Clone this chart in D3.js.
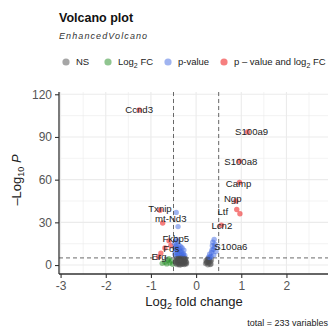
<!DOCTYPE html>
<html>
<head>
<meta charset="utf-8">
<script src="https://cdn.jsdelivr.net/npm/d3@7"></script>
<style>
  body { margin: 0; background: #fff; }
  svg { font-family: "Liberation Sans", Arial, sans-serif; }
</style>
</head>
<body>
<div id="chart"></div>
<script>
// values
const log2FC = [
  -1.26, 1.14, 0.96, 0.96, 0.88, 0.90, 0.97, 0.56, -0.80, -0.74, -0.44, -0.40,
  -0.60, -0.69, -0.78, -0.56, -0.83,
  -0.69, -0.62, -0.58, -0.65, -0.55, -0.75, -0.52, -0.60,
  -0.48, -0.45, -0.42, -0.38, -0.35, -0.31, -0.28, -0.46, -0.40, -0.33, -0.27,
  -0.44, -0.37, -0.30, -0.25, -0.41, -0.47, -0.36, -0.32, -0.39, -0.43,
  -0.45, -0.41, -0.34, -0.29, -0.38, -0.47, -0.26, -0.43,
  -0.44, -0.40, -0.36, -0.32, -0.28, -0.24, -0.42, -0.38, -0.34, -0.30, -0.26,
  -0.22, -0.44, -0.40, -0.36, -0.32, -0.28, -0.24, -0.42, -0.38, -0.34, -0.30,
  -0.26, -0.22, -0.46, -0.33, -0.25,
  -0.43, -0.39, -0.35, -0.31, -0.27, -0.23, -0.41, -0.37, -0.29, -0.25, -0.45,
  -0.33, -0.39, -0.21, -0.35,
  0.24, 0.30, 0.26, 0.28, 0.32, 0.22, 0.33, 0.21, 0.29, 0.25,
  0.27, 0.23, 0.31, 0.34, 0.26,
  0.37, 0.41, 0.35, 0.39, 0.30, 0.33, 0.44, 0.36, 0.28, 0.40,
  0.34, 0.38, 0.31, 0.42
];
const negLog10P = [
  109, 93.5, 73, 58, 45, 39, 36, 28, 38.5, 29.5, 37, 27,
  17, 12, 8.4, 13.5, 5.6,
  2, 3.5, 1.4, 0.8, 2.8, 1.2, 0.5, 4.4,
  15.5, 13, 11, 14, 9.5, 12, 8, 9, 7, 6.5, 10.5,
  6, 11.5, 5.8, 6.8, 16.5, 7.5, 8, 9.2, 5.5, 18,
  11.5, 8.5, 12.8, 7.2, 10, 12, 5.3, 14.5,
  4.5, 4.2, 4.6, 4.0, 4.4, 3.8, 3.2, 2.8, 3.4, 2.6, 3.0,
  2.4, 1.8, 1.4, 2.0, 1.2, 1.8, 1.0, 0.4, 0.8, 0.2, 0.6,
  0.3, 0.8, 2.6, 4.8, 2.2,
  3.6, 3.9, 1.6, 3.3, 2.4, 4.4, 2.2, 0.1, 1.1, 4.1, 1.0,
  2.9, 4.7, 1.6, 3.9,
  2, 3.5, 0.2, 1.4, 2.4, 3.2, 0.8, 1.0, 4.4, 4.0,
  2.8, 1.8, 0.4, 3.6, 4.6,
  16, 12.7, 10.5, 7, 7.7, 6, 9.5, 13.5, 5.6, 18,
  8.8, 11, 5.3, 14.5
];
const labelGenes = ['Ccnd3', 'S100a9', 'S100a8', 'Camp', 'Ngp', 'Ltf', 'Lcn2',
  'Txnip', 'mt-Nd3', 'Fkbp5', 'Fos', 'Erg', 'S100a6'];
const labelFC = [-1.26, 1.23, 0.99, 0.94, 0.81, 0.59, 0.57, -0.80, -0.56, -0.45, -0.55, -0.82, 0.77];
const labelP = [109, 94, 73, 57, 46.5, 37.3, 28, 39.5, 32.5, 18.2, 11.3, 5.6, 12.7];
const xTicks = [-3, -2, -1, 0, 1, 2];
const yTicks = [0, 30, 60, 90, 120];
const legendNames = ['NS', 'Log2 FC', 'p-value', 'p \u2013 value and log2 FC'];
const fcCutoff = 0.5;
const pCutoff = 5;

const width = 332, height = 331;
const colors = ['#4d4d4d', '#228b22', '#4169e1', '#ee0000'];

const svg = d3.select('#chart').append('svg')
  .attr('width', width)
  .attr('height', height);

const x = d3.scaleLinear().domain([-3.035, 2.92]).range([59, 328]);
const y = d3.scaleLinear().domain([-6.3, 121.6]).range([274, 92]);

// category like EnhancedVolcano: 0 NS, 1 FC, 2 p, 3 both
function category(fc, p) {
  const bigFC = Math.abs(fc) > fcCutoff, smallP = p > pCutoff;
  if (bigFC && smallP) return 3;
  if (smallP) return 2;
  if (bigFC) return 1;
  return 0;
}

// gridlines
const grid = svg.append('g').attr('stroke', '#ebebeb');
const minorX = d3.range(-2.5, 3, 1);
const minorY = d3.range(15, 121, 30);
grid.selectAll('.minx').data(minorX).enter().append('line')
  .attr('x1', d => x(d)).attr('x2', d => x(d)).attr('y1', 92).attr('y2', 274)
  .attr('stroke-width', 0.6);
grid.selectAll('.miny').data(minorY).enter().append('line')
  .attr('y1', d => y(d)).attr('y2', d => y(d)).attr('x1', 59).attr('x2', 328)
  .attr('stroke-width', 0.6);
grid.selectAll('.majx').data(xTicks).enter().append('line')
  .attr('x1', d => x(d)).attr('x2', d => x(d)).attr('y1', 92).attr('y2', 274)
  .attr('stroke-width', 1.1);
grid.selectAll('.majy').data(yTicks).enter().append('line')
  .attr('y1', d => y(d)).attr('y2', d => y(d)).attr('x1', 59).attr('x2', 328)
  .attr('stroke-width', 1.1);

// points
const pts = log2FC.map((fc, i) => ({ fc, p: negLog10P[i], c: category(fc, negLog10P[i]) }));
svg.append('g').selectAll('circle')
  .data(pts).enter().append('circle')
  .attr('cx', d => x(d.fc))
  .attr('cy', d => y(d.p))
  .attr('r', 2.7)
  .attr('fill', d => colors[d.c])
  .attr('fill-opacity', 0.5);

// cutoff lines
const cut = svg.append('g').attr('stroke', '#444').attr('stroke-width', 0.8)
  .attr('stroke-dasharray', '4,3');
cut.selectAll('.v').data([-fcCutoff, fcCutoff]).enter().append('line')
  .attr('x1', d => x(d)).attr('x2', d => x(d)).attr('y1', 92).attr('y2', 274);
cut.append('line')
  .attr('x1', 59).attr('x2', 328).attr('y1', y(pCutoff)).attr('y2', y(pCutoff));

// gene labels
svg.append('g').selectAll('text')
  .data(labelGenes).enter().append('text')
  .attr('x', (d, i) => x(labelFC[i]))
  .attr('y', (d, i) => y(labelP[i]))
  .attr('dy', '0.35em')
  .attr('text-anchor', 'middle')
  .attr('font-size', 9.6)
  .attr('fill', '#222')
  .text(d => d);

// axes
const xAxis = d3.axisBottom(x).tickValues(xTicks).tickFormat(d => String(d)).tickSize(4).tickPadding(3);
const yAxis = d3.axisLeft(y).tickValues(yTicks).tickFormat(d => String(d)).tickSize(4).tickPadding(3);

const gx = svg.append('g')
  .attr('transform', 'translate(0,274)')
  .call(xAxis);
const gy = svg.append('g')
  .attr('transform', 'translate(59,0)')
  .call(yAxis);
[gx, gy].forEach(g => {
  g.select('.domain').attr('stroke', '#333').attr('stroke-width', 1.3);
  g.selectAll('.tick line').attr('stroke', '#333').attr('stroke-width', 1.1);
  g.selectAll('.tick text').attr('fill', '#555').attr('font-size', 12)
    .attr('font-family', '"Liberation Sans", Arial, sans-serif');
});
gx.select('.domain').attr('d', 'M59,0H328');
gy.select('.domain').attr('d', 'M0,92V274');

// axis titles
const xt = svg.append('text')
  .attr('x', 194).attr('y', 306)
  .attr('text-anchor', 'middle').attr('font-size', 13).attr('fill', '#222');
xt.append('tspan').text('Log');
xt.append('tspan').attr('font-size', 9).attr('dy', 3).text('2');
xt.append('tspan').attr('dy', -3).text(' fold change');

const yt = svg.append('text')
  .attr('transform', 'translate(21,180) rotate(-90)')
  .attr('text-anchor', 'middle').attr('font-size', 13).attr('fill', '#222');
yt.append('tspan').text('\u2013Log');
yt.append('tspan').attr('font-size', 9).attr('dy', 3).text('10');
yt.append('tspan').attr('dy', -3).text(' ');
yt.append('tspan').attr('font-style', 'italic').text('P');

// title, subtitle
svg.append('text')
  .attr('x', 59).attr('y', 22)
  .attr('font-size', 12.5).attr('font-weight', 'bold').attr('fill', '#111')
  .text('Volcano plot');
svg.append('text')
  .attr('x', 59).attr('y', 39)
  .attr('font-size', 9).attr('font-style', 'italic').attr('letter-spacing', 1.1)
  .attr('fill', '#333')
  .text('EnhancedVolcano');

// legend
const legX = [66, 108, 168, 224];
const leg = svg.append('g').selectAll('g')
  .data(legendNames).enter().append('g')
  .attr('transform', (d, i) => `translate(${legX[i]},62)`);
leg.append('circle')
  .attr('r', 3.6)
  .attr('fill', (d, i) => colors[i])
  .attr('fill-opacity', 0.5);
leg.each(function (d) {
  const t = d3.select(this).append('text')
    .attr('x', 10).attr('dy', '0.35em')
    .attr('font-size', 9.5).attr('fill', '#222');
  const parts = d.split('log2').join('Log2').split('Log2');
  if (parts.length === 1) { t.text(d); return; }
  const word = d.includes('Log2') ? 'Log' : 'log';
  t.append('tspan').text(parts[0] + word);
  t.append('tspan').attr('font-size', 7).attr('dy', 2.5).text('2');
  t.append('tspan').attr('dy', -2.5).text(parts[1]);
});

// caption
svg.append('text')
  .attr('x', 328).attr('y', 326)
  .attr('text-anchor', 'end').attr('font-size', 9).attr('fill', '#222')
  .text('total = 233 variables');
</script>
</body>
</html>
